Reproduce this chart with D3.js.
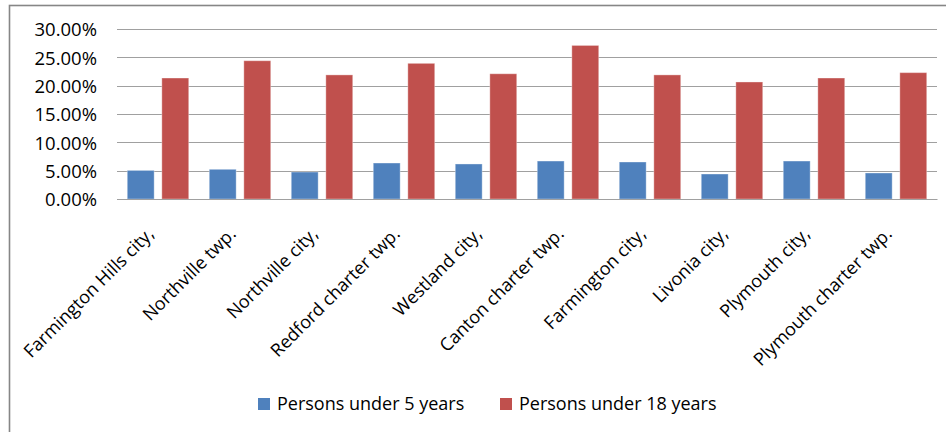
<!DOCTYPE html>
<html><head><meta charset="utf-8">
<script src="https://cdn.jsdelivr.net/npm/d3@7"></script>
<style>body{margin:0;background:#fff;}svg{display:block;}text{font-family:"Open Sans",sans-serif;fill:#000;}</style>
</head><body>
<svg id="c" width="946" height="432"></svg>
<script>
const categories = ["Farmington Hills city,","Northville twp.","Northville city,","Redford charter twp.","Westland city,","Canton charter twp.","Farmington city,","Livonia city,","Plymouth city,","Plymouth charter twp."];
const seriesNames = ["Persons under 5 years","Persons under 18 years"];
const under5 = [0.0505,0.0524,0.0476,0.0635,0.0618,0.0670,0.0653,0.0441,0.0670,0.0459];
const under18 = [0.2135,0.2440,0.2190,0.2394,0.2210,0.2710,0.2190,0.2065,0.2135,0.2230];
const yTicks = [0,0.05,0.10,0.15,0.20,0.25,0.30];
const colors = ["#4f81bd","#c0504d"];

const svg = d3.select("#c");
// outer chart frame
svg.append("rect").attr("x",9.5).attr("y",5.5).attr("width",1200).attr("height",1000)
  .attr("fill","none").attr("stroke","#868686").attr("stroke-width",1.6);

const x = d3.scaleBand().domain(categories).range([117,937]).padding(0);
const xs = d3.scaleBand().domain(seriesNames).range([0,x.bandwidth()]).paddingInner(0.222).paddingOuter(0.297);
const y = d3.scaleLinear().domain([0,0.3]).range([199,29]);

// gridlines
svg.append("g").selectAll("line").data(yTicks).join("line")
  .attr("x1",117).attr("x2",937).attr("y1",d=>Math.round(y(d))+0.5).attr("y2",d=>Math.round(y(d))+0.5)
  .attr("stroke","#a0a0a0").attr("stroke-width",1);

// y axis labels
const yAxis = d3.axisLeft(y).tickValues(yTicks).tickFormat(d3.format(".2%")).tickSize(0).tickPadding(0);
const ga = svg.append("g").attr("transform","translate(97,0)").call(yAxis);
ga.select(".domain").remove();
ga.selectAll("text").attr("font-size",18.5).attr("font-family","Open Sans").attr("fill","#000").attr("dy","0.36em");

// bars
const data = [under5, under18];
const gb = svg.append("g");
seriesNames.forEach((s,si)=>{
  gb.append("g").selectAll("rect").data(categories).join("rect")
    .attr("x",c=>x(c)+xs(s)).attr("width",xs.bandwidth())
    .attr("y",(c,i)=>y(data[si][i])).attr("height",(c,i)=>y(0)-y(data[si][i]))
    .attr("fill",colors[si]).attr("stroke","rgba(255,255,255,0.35)").attr("stroke-width",1);
});

// x labels
const gx = svg.append("g").attr("transform","translate(0,199)")
  .call(d3.axisBottom(x).tickSize(0).tickPadding(0));
gx.select(".domain").attr("stroke","#a0a0a0");
gx.selectAll("text").attr("font-size",18).attr("font-family","Open Sans").attr("fill","#000")
  .attr("text-anchor","end").attr("dy",null).attr("y",0)
  .attr("transform","translate(-3,36) rotate(-45)");

// legend
const legX = [258,500];
const lg = svg.append("g");
seriesNames.forEach((s,i)=>{
  lg.append("rect").attr("x",legX[i]).attr("y",398).attr("width",12).attr("height",12).attr("fill",colors[i]);
  lg.append("text").attr("x",legX[i]+19).attr("y",410).attr("font-size",18).text(s);
});
</script>
</body></html>
